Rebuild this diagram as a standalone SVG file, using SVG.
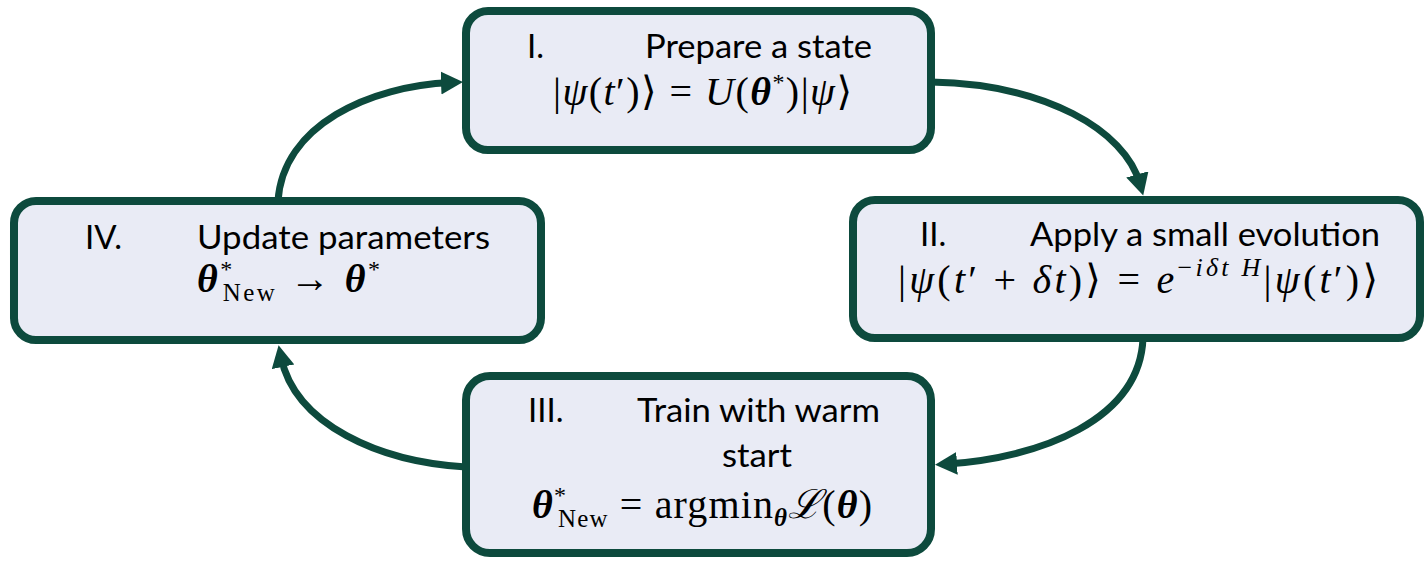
<svg xmlns="http://www.w3.org/2000/svg" width="1424" height="561" viewBox="0 0 1424 561">
<style>
.box{fill:#e9ebf5;stroke:#0d4a3d;stroke-width:8}
.lbl{font-family:Lato,"Liberation Sans",sans-serif;font-size:33px;fill:#000}
.m{font-family:"Liberation Serif","DejaVu Serif",serif;font-size:40px;fill:#000}
.i{font-style:italic}
.bi{font-style:italic;font-weight:bold}
.con{fill:none;stroke:#0d4a3d;stroke-width:7}
</style>
<defs>
<marker id="ah" markerUnits="userSpaceOnUse" markerWidth="24" markerHeight="24" refX="10" refY="11.5" orient="auto">
<path d="M0,0 L22,11.5 L0,23 Z" fill="#0d4a3d"/>
</marker>
</defs>
<g id="connectors">
<path class="con" d="M931,82 C1045,84 1125,130 1140,184" marker-end="url(#ah)"/>
<path class="con" d="M1143,338 C1140,420 1040,458 947,464" marker-end="url(#ah)"/>
<path class="con" d="M466,467 C380,462 295,425 281,357" marker-end="url(#ah)"/>
<path class="con" d="M278,201 C283,125 370,86 451,82.5" marker-end="url(#ah)"/>
</g>
<g id="node1">
<rect class="box" x="466" y="11" width="465" height="139" rx="22"/>
<text class="lbl" x="527" y="58">I.</text>
<text class="lbl" x="645" y="58" textLength="227" lengthAdjust="spacingAndGlyphs">Prepare a state</text>
<text class="m" x="553" y="105" textLength="299">|<tspan class="i">ψ</tspan>(<tspan class="i">t</tspan>′)⟩ = <tspan class="i">U</tspan>(<tspan class="bi">θ</tspan><tspan dy="-15" font-size="24">*</tspan><tspan dy="15">)|</tspan><tspan class="i">ψ</tspan>⟩</text>
</g>
<g id="node2">
<rect class="box" x="853" y="200" width="567" height="138" rx="22"/>
<text class="lbl" x="920" y="246">II.</text>
<text class="lbl" x="1030" y="246" textLength="350" lengthAdjust="spacingAndGlyphs">Apply a small evolution</text>
<text class="m" x="898" y="293" textLength="480">|<tspan class="i">ψ</tspan>(<tspan class="i">t</tspan>′ + <tspan class="i">δt</tspan>)⟩ = <tspan class="i">e</tspan><tspan dy="-17" font-size="26">−<tspan class="i">iδt H</tspan></tspan><tspan dy="17">|</tspan><tspan class="i">ψ</tspan>(<tspan class="i">t</tspan>′)⟩</text>
</g>
<g id="node3">
<rect class="box" x="466" y="376" width="465" height="177" rx="24"/>
<text class="lbl" x="528" y="422">III.</text>
<text class="lbl" x="637" y="422" textLength="243" lengthAdjust="spacingAndGlyphs">Train with warm</text>
<text class="lbl" x="722" y="467" textLength="70" lengthAdjust="spacingAndGlyphs">start</text>
<text class="m" x="532" y="518" textLength="340"><tspan class="bi">θ</tspan><tspan dy="-15" font-size="24">*</tspan><tspan dx="-9" dy="24" font-size="25">New</tspan><tspan dy="-9"> = argmin</tspan><tspan class="bi" dy="8" font-size="25">θ</tspan><tspan dy="-8" class="i">ℒ</tspan>(<tspan class="bi">θ</tspan>)</text>
</g>
<g id="node4">
<rect class="box" x="14" y="201" width="527" height="139" rx="22"/>
<text class="lbl" x="85" y="249">IV.</text>
<text class="lbl" x="197" y="249" textLength="293" lengthAdjust="spacingAndGlyphs">Update parameters</text>
<text class="m" x="197" y="292" textLength="183"><tspan class="bi">θ</tspan><tspan dy="-15" font-size="24">*</tspan><tspan dx="-12" dy="24" font-size="25">New</tspan><tspan dy="-9"> → </tspan><tspan class="bi">θ</tspan><tspan dy="-15" font-size="24">*</tspan></text>
</g>
</svg>
